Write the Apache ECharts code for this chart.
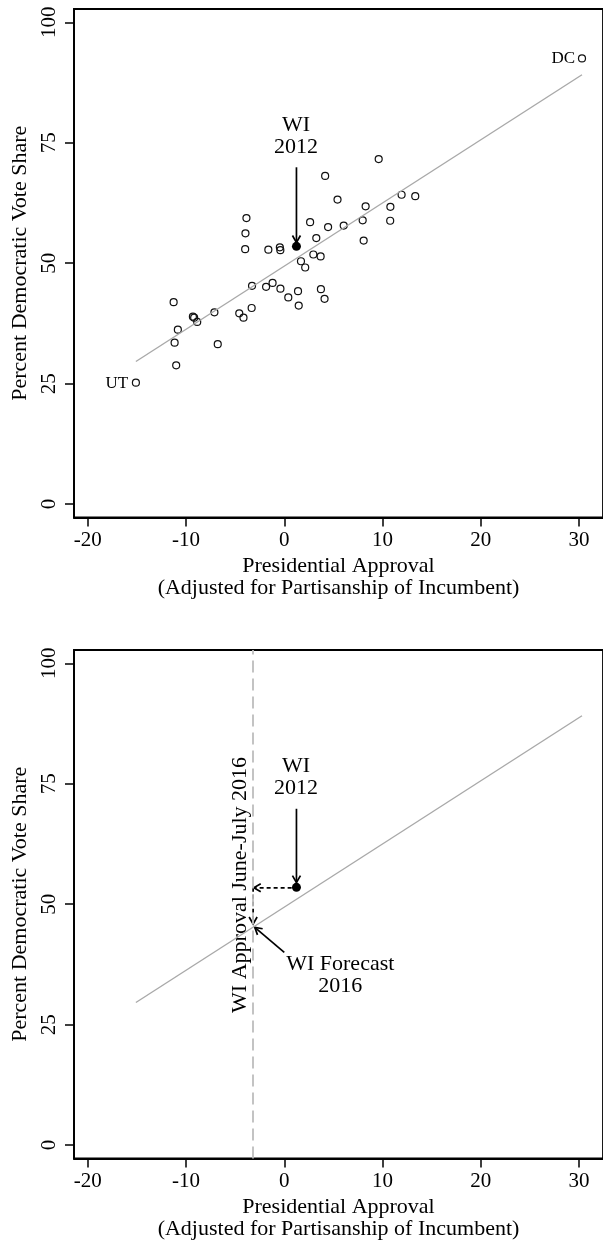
<!DOCTYPE html>
<html>
<head>
<meta charset="utf-8">
<script src="https://cdn.jsdelivr.net/npm/echarts@6/dist/echarts.min.js"></script>
<style>
html,body{margin:0;padding:0;background:#fff;}
#chart{width:603px;height:1245px;}
</style>
</head>
<body>
<div id="chart"></div>
<script>
// ---- data ----
const xTicks = [-20, -10, 0, 10, 20, 30];
const yTicks = [0, 25, 50, 75, 100];
const stateApproval = [-3.85,-3.95,-3.98,-1.62,-0.45,-0.4,9.61,4.16,5.42,8.28,10.8,11.94,13.33,2.63,4.46,6.05,7.98,10.78,3.26,8.08,2.96,3.7,1.7,2.13,-11.26,-3.28,-1.85,-1.19,-0.39,0.41,1.4,1.47,3.73,4.1,-7.11,-9.3,-9.17,-8.86,-4.58,-4.15,-3.32,-10.83,-11.16,-6.77,-11.0,-15.1,30.3];
const stateVote = [59.35,56.2,52.9,52.8,53.3,52.7,71.6,68.1,63.2,61.8,61.7,64.2,63.9,58.5,57.5,57.8,58.9,58.8,55.2,54.7,51.8,51.4,50.4,49.1,41.9,45.3,45.1,45.9,44.7,42.9,44.2,41.2,44.6,42.6,39.8,38.9,38.7,37.8,39.6,38.7,40.7,36.2,33.5,33.2,28.8,25.2,92.5];
const wi2012 = [1.24, 53.5];
const fitX = [-15.1, 30.3];
const fitY = [29.6, 89.1];
const approval2016 = -3.17;
const forecast2016 = 45.7;
const stateLabels = ['DC', 'UT'];
const stateLabelX = [29.6, -15.9];
const stateLabelY = [92.5, 25.1];
const wiLabel = 'WI\n2012';
const wiLabelPos = [1.2, 76.4];
const forecastLabel = 'WI Forecast\n2016';
const forecastLabelPos = [5.7, 35.2];
const approvalLabel = 'WI Approval June-July 2016';
const approvalLabelPos = [-4.45, 54];
// arrows: [x1, y1, x2, y2, dashed]
const arrowsTop = [[1.24, 69.9, 1.24, 54.3, 0]];
const arrowsBottom = [
  [1.24, 69.8, 1.24, 54.5, 0],
  [0.75, 53.4, -3.1, 53.4, 1],
  [-3.17, 53.4, -3.17, 45.9, 1],
  [0.0, 40.0, -3.0, 45.2, 0]
];

// ---- chart ----
const FONT = '"Liberation Serif", "DejaVu Serif", serif';
const chart = echarts.init(document.getElementById('chart'), null, {renderer: 'canvas'});

const PX = 10.03;
const xMin = -21.4;
const gridW = 540;
const xMax = xMin + gridW / PX;
const yMin = -2.78, yMax = 102.75;

function xAxisDef(i) {
  return {
    gridIndex: i, type: 'value', min: xMin, max: xMax,
    axisLine: {show: true, onZero: false, lineStyle: {color: '#000', width: 1.8}},
    splitLine: {show: false},
    axisTick: {show: true, length: 9, customValues: xTicks, lineStyle: {color: '#000', width: 1.5}},
    axisLabel: {customValues: xTicks, fontSize: 21, color: '#000', fontFamily: FONT, margin: 12},
    name: 'Presidential Approval\n(Adjusted for Partisanship of Incumbent)',
    nameLocation: 'middle', nameGap: 37,
    nameTextStyle: {fontSize: 22, lineHeight: 22.5, color: '#000', fontFamily: FONT}
  };
}
function yAxisDef(i) {
  return {
    gridIndex: i, type: 'value', min: yMin, max: yMax,
    axisLine: {show: true, onZero: false, lineStyle: {color: '#000', width: 1.8}},
    splitLine: {show: false},
    axisTick: {show: true, length: 9, customValues: yTicks, lineStyle: {color: '#000', width: 1.5}},
    axisLabel: {customValues: yTicks, rotate: 90, fontSize: 21, color: '#000', fontFamily: FONT, margin: 14},
    name: 'Percent Democratic Vote Share',
    nameLocation: 'middle', nameGap: 42,
    nameTextStyle: {fontSize: 22, color: '#000', fontFamily: FONT}
  };
}

function arrowRender(params, api) {
  const p1 = api.coord([api.value(0), api.value(1)]);
  const p2 = api.coord([api.value(2), api.value(3)]);
  const dashed = api.value(4) === 1;
  const ang = Math.atan2(p2[1] - p1[1], p2[0] - p1[0]);
  const L = 8, a = Math.PI / 6;
  const h1 = [p2[0] - L * Math.cos(ang - a), p2[1] - L * Math.sin(ang - a)];
  const h2 = [p2[0] - L * Math.cos(ang + a), p2[1] - L * Math.sin(ang + a)];
  return {
    type: 'group',
    children: [
      {type: 'line', shape: {x1: p1[0], y1: p1[1], x2: p2[0], y2: p2[1]},
       style: {stroke: '#000', lineWidth: 1.7, lineDash: dashed ? [4, 3] : null}},
      {type: 'polyline', shape: {points: [h1, p2, h2]},
       style: {stroke: '#000', lineWidth: 1.7, fill: null}}
    ]
  };
}

const fitData = fitX.map((x, i) => [x, fitY[i]]);
const stateData = stateApproval.map((x, i) => [x, stateVote[i]]);

const baseLabel = {show: true, position: 'inside', formatter: '{b}', color: '#000', fontFamily: FONT,
                   fontSize: 22, lineHeight: 22, align: 'center', verticalAlign: 'middle'};
function textSeries(gi, items, labelExtra) {
  return {
    type: 'scatter', xAxisIndex: gi, yAxisIndex: gi, symbolSize: 0, silent: true,
    itemStyle: {opacity: 1},
    data: items,
    label: Object.assign({}, baseLabel, labelExtra || {})
  };
}

const option = {
  animation: false,
  backgroundColor: '#fff',
  grid: [
    {left: 74, top: 9, width: gridW, height: 508.5, show: true, borderColor: '#000', borderWidth: 1.8},
    {left: 74, top: 650, width: gridW, height: 508.5, show: true, borderColor: '#000', borderWidth: 1.8}
  ],
  xAxis: [xAxisDef(0), xAxisDef(1)],
  yAxis: [yAxisDef(0), yAxisDef(1)],
  series: [
    // fit lines
    {type: 'line', xAxisIndex: 0, yAxisIndex: 0, data: fitData, showSymbol: false, silent: true,
     lineStyle: {color: '#a9a9a9', width: 1.4}},
    {type: 'line', xAxisIndex: 1, yAxisIndex: 1, data: fitData, showSymbol: false, silent: true,
     lineStyle: {color: '#a9a9a9', width: 1.4},
     markLine: {symbol: 'none', silent: true, label: {show: false},
       lineStyle: {type: [12, 6], color: '#bdbdbd', width: 1.8},
       data: [{xAxis: approval2016}]}},
    // states
    {type: 'scatter', xAxisIndex: 0, yAxisIndex: 0, data: stateData, symbol: 'circle', symbolSize: 7,
     itemStyle: {color: 'rgba(0,0,0,0)', borderColor: '#111', borderWidth: 1.2, opacity: 1}},
    // WI 2012
    {type: 'scatter', xAxisIndex: 0, yAxisIndex: 0, data: [wi2012], symbol: 'circle', symbolSize: 9,
     itemStyle: {color: '#000', opacity: 1}},
    {type: 'scatter', xAxisIndex: 1, yAxisIndex: 1, data: [wi2012], symbol: 'circle', symbolSize: 9,
     itemStyle: {color: '#000', opacity: 1}},
    // arrows
    {type: 'custom', xAxisIndex: 0, yAxisIndex: 0, renderItem: arrowRender, data: arrowsTop,
     encode: {x: [0, 2], y: [1, 3]}, silent: true},
    {type: 'custom', xAxisIndex: 1, yAxisIndex: 1, renderItem: arrowRender, data: arrowsBottom,
     encode: {x: [0, 2], y: [1, 3]}, silent: true},
    // texts
    textSeries(0, [{name: wiLabel, value: wiLabelPos}]),
    textSeries(1, [{name: wiLabel, value: wiLabelPos}]),
    textSeries(1, [{name: forecastLabel, value: forecastLabelPos}]),
    textSeries(0, stateLabels.map((s, i) => ({name: s, value: [stateLabelX[i], stateLabelY[i]]})),
      {fontSize: 17, align: 'right'}),
    textSeries(1, [{name: approvalLabel, value: approvalLabelPos}], {rotate: 90})
  ]
};
chart.setOption(option);
</script>
</body>
</html>
